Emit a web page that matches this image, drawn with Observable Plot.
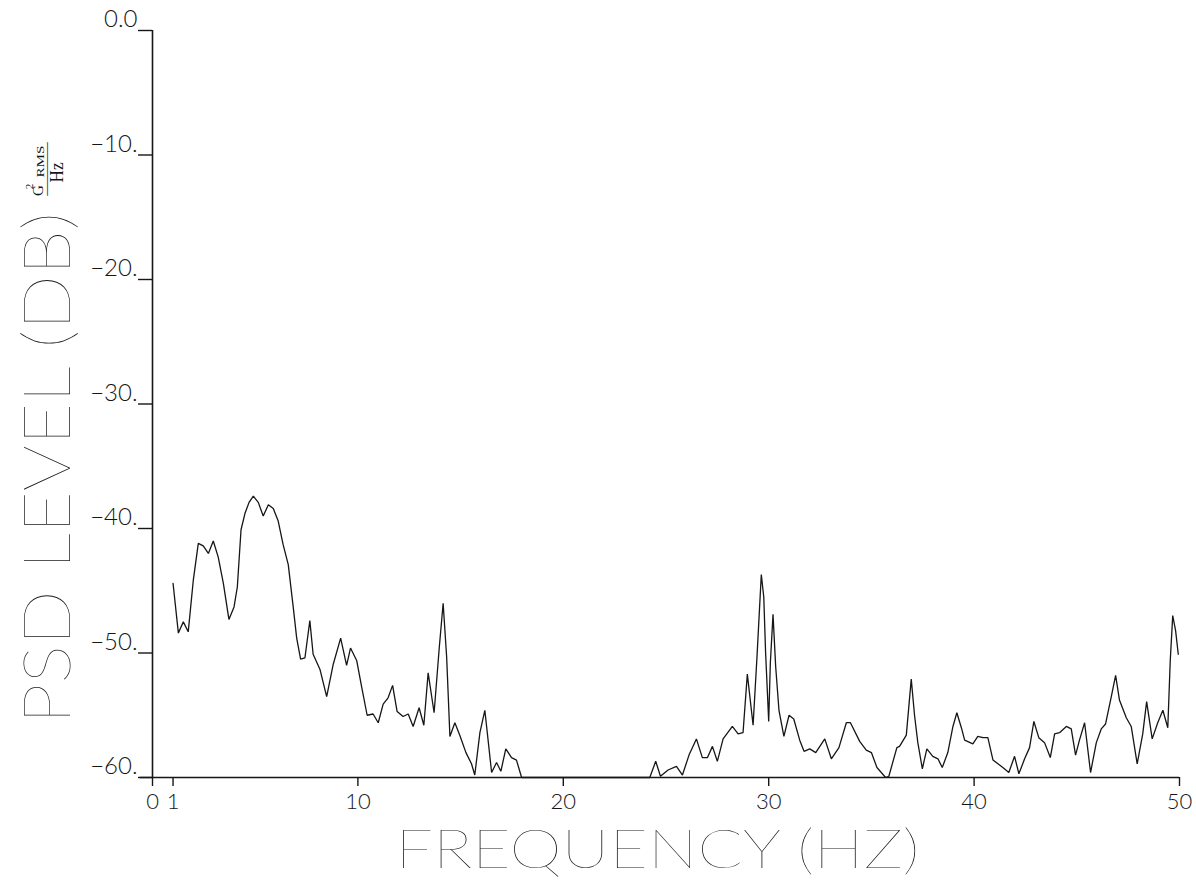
<!DOCTYPE html>
<html>
<head>
<meta charset="utf-8">
<script src="https://cdn.jsdelivr.net/npm/d3@7"></script>
<script src="https://cdn.jsdelivr.net/npm/@observablehq/plot@0.6"></script>
<style>
  html, body { margin: 0; padding: 0; background: #ffffff; }
  #chart { width: 1196px; height: 880px; }
</style>
</head>
<body>
<div id="chart"></div>
<script>
// Frequency (Hz) of each plotted point
const freq = [
  1.00, 1.26, 1.50, 1.74, 1.99, 2.23, 2.47, 2.72, 2.96, 3.20, 3.45, 3.72, 3.97, 4.13, 4.31, 4.50,
  4.70, 4.91, 5.15, 5.39, 5.64, 5.88, 6.12, 6.36, 6.61, 6.85, 7.02, 7.21, 7.42, 7.66, 7.82,
  8.15, 8.48, 8.80, 9.16, 9.45, 9.64, 9.94, 10.18, 10.45, 10.74, 10.99, 11.23, 11.47, 11.69, 11.91,
  12.20, 12.45, 12.69, 12.98, 13.21, 13.42, 13.71, 13.96, 14.15, 14.32, 14.48, 14.72, 14.96, 15.26,
  15.53, 15.69, 15.94, 16.18, 16.51, 16.75, 16.96, 17.20, 17.48, 17.72, 17.97,
  24.21, 24.50, 24.73, 25.10, 25.51, 25.80, 26.12, 26.48, 26.77, 27.02, 27.26, 27.50, 27.78, 28.23,
  28.51, 28.75, 28.96, 29.24, 29.43, 29.64, 29.76, 29.85, 30.00, 30.08, 30.21, 30.34, 30.50, 30.74,
  30.99, 31.22, 31.51, 31.72, 32.00, 32.29, 32.73, 33.05, 33.42, 33.78, 33.98, 34.43, 34.75, 35.00,
  35.27, 35.69, 35.85, 36.24,
  36.37, 36.70, 36.94, 37.10, 37.26, 37.48, 37.70, 37.99, 38.24, 38.45, 38.72, 38.97, 39.16, 39.38,
  39.54, 39.94, 40.18, 40.43, 40.67, 40.92, 41.16, 41.40, 41.69, 41.97, 42.18, 42.46, 42.70, 42.91,
  43.15, 43.43, 43.71, 43.92, 44.16, 44.49, 44.73, 44.94, 45.13, 45.38, 45.67, 45.95, 46.19, 46.40,
  46.68, 46.89, 47.08, 47.41, 47.65, 47.94, 48.21, 48.40, 48.67, 48.94, 49.19, 49.43, 49.55, 49.67,
  49.81, 49.94
];

// PSD level (dB, G^2 RMS / Hz) at each frequency above
const psdLevel = [
  -44.4, -48.4, -47.5, -48.3, -44.1, -41.2, -41.4, -42.0, -41.0, -42.3, -44.4, -47.3, -46.3, -44.7, -40.1, -38.8,
  -37.9, -37.4, -37.9, -39.0, -38.1, -38.4, -39.4, -41.3, -42.9, -46.3, -48.8, -50.5, -50.4, -47.4, -50.1,
  -51.3, -53.5, -50.9, -48.8, -51.0, -49.6, -50.6, -52.7, -55.0, -54.9, -55.6, -54.1, -53.6, -52.6, -54.7,
  -55.1, -54.9, -55.9, -54.4, -55.8, -51.6, -54.8, -49.6, -46.0, -50.3, -56.7, -55.6, -56.6, -58.0,
  -58.9, -59.8, -56.4, -54.6, -59.6, -58.8, -59.5, -57.7, -58.4, -58.6, -60.0,
  -60.0, -58.7, -59.9, -59.4, -59.1, -59.8, -58.2, -56.9, -58.4, -58.4, -57.5, -58.7, -56.9, -55.9,
  -56.5, -56.4, -51.7, -55.8, -50.3, -43.7, -45.5, -50.0, -55.5, -50.8, -46.9, -51.1, -54.6, -56.7,
  -55.0, -55.3, -57.0, -57.9, -57.7, -58.0, -56.9, -58.5, -57.6, -55.6, -55.6, -57.1, -57.8, -58.0,
  -59.2, -60.0, -59.9, -57.6,
  -57.5, -56.6, -52.1, -55.0, -57.2, -59.3, -57.7, -58.3, -58.5, -59.2, -58.0, -55.9, -54.8, -56.0,
  -57.0, -57.3, -56.7, -56.8, -56.8, -58.6, -58.9, -59.2, -59.6, -58.3, -59.7, -58.5, -57.6, -55.5,
  -56.8, -57.2, -58.4, -56.5, -56.4, -55.9, -56.1, -58.2, -57.0, -55.6, -59.6, -57.2, -56.1, -55.7,
  -53.5, -51.8, -53.8, -55.2, -55.9, -58.9, -56.5, -53.9, -56.9, -55.6, -54.6, -56.0, -50.6, -47.0,
  -48.2, -50.1
];

// Axis ticks and labels
const xTicks = [0, 1, 10, 20, 30, 40, 50];
const yTicks = [0, -10, -20, -30, -40, -50, -60];
const yTickLabels = ["0.0", "\u221210.", "\u221220.", "\u221230.", "\u221240.", "\u221250.", "\u221260."];
const xTitle = "FREQUENCY (HZ)";
const yTitle = "PSD LEVEL (DB)";

const data = freq.map((f, i) => ({f, db: psdLevel[i]}));

const FONT = "Lato, 'Open Sans', 'DejaVu Sans', sans-serif";
const SERIF = "'Liberation Serif', 'DejaVu Serif', serif";
const INK = "#161616";
const mid = {textAnchor: "middle", lineAnchor: "middle"};

const chart = Plot.plot({
  width: 1196,
  height: 880,
  marginLeft: 152,
  marginRight: 17,
  marginTop: 30,
  marginBottom: 103,
  style: {background: "#ffffff", color: INK, fontFamily: FONT, fontSize: "24px", fontWeight: 300},
  x: {domain: [0, 50], label: null},
  y: {domain: [-60, 0], label: null},
  marks: [
    // axis lines
    Plot.ruleX([0], {stroke: INK, strokeWidth: 1.6}),
    Plot.ruleY([-60], {x1: -0.6, x2: 50, stroke: INK, strokeWidth: 1.4}),
    // x ticks and labels
    Plot.axisX({ticks: xTicks, tickSize: 9, tickPadding: 7, tickFormat: d => String(d),
      stroke: INK, strokeWidth: 1.4, fill: INK, fontSize: 22, label: null}),
    // y ticks
    Plot.axisY({ticks: yTicks, tickSize: 14, fill: "none", stroke: INK, strokeWidth: 1.4, label: null}),
    // y tick labels (sit just above each tick)
    Plot.axisY({ticks: yTicks, tickSize: 14, tickPadding: 1, stroke: "none", fill: INK, dy: -11,
      fontSize: 24, tickFormat: d => yTickLabels[yTicks.indexOf(d)], label: null}),
    // data line
    Plot.line(data, {x: "f", y: "db", stroke: INK, strokeWidth: 1.3, strokeLinejoin: "miter"}),
    // axis titles
    Plot.text([xTitle], {...mid, frameAnchor: "bottom", dx: -8.5, dy: 73.7, fontSize: 54, fontWeight: 100, fill: INK}),
    Plot.text([yTitle], {...mid, frameAnchor: "left", dx: -103.5, dy: 64, rotate: -90, fontSize: 65, fontWeight: 100, fill: INK}),
    // unit  G^2 RMS / Hz
    Plot.text(["G"], {...mid, frameAnchor: "top-left", dx: -114, dy: 160, rotate: -90, fontSize: 15, fontFamily: SERIF, fontWeight: 400, fill: INK}),
    Plot.text(["2"], {...mid, frameAnchor: "top-left", dx: -123, dy: 156, rotate: -90, fontSize: 11, fontFamily: SERIF, fontWeight: 400, fill: INK}),
    Plot.text(["RMS"], {...mid, frameAnchor: "top-left", dx: -112, dy: 131, rotate: -90, fontSize: 10, fontFamily: SERIF, fontWeight: 400, fill: INK}),
    Plot.text(["\u2014"], {...mid, frameAnchor: "top-left", dx: -106, dy: 138.5, rotate: -90, fontSize: 14, fontFamily: SERIF, fontWeight: 400, fill: INK}),
    Plot.text(["Hz"], {...mid, frameAnchor: "top-left", dx: -95.5, dy: 142, rotate: -90, fontSize: 18, fontFamily: SERIF, fontWeight: 400, fill: INK})
  ]
});

// fit the plotter-style lettering to its measured lengths
const lengths = {[xTitle]: 524, [yTitle]: 512, "RMS": 32, "\u2014": 53, "Hz": 20};
d3.select(chart).selectAll("text").each(function() {
  const t = this.textContent;
  if (lengths[t] !== undefined) {
    this.setAttribute("textLength", lengths[t]);
    this.setAttribute("lengthAdjust", "spacingAndGlyphs");
  }
});

document.getElementById("chart").appendChild(chart);
</script>
</body>
</html>
